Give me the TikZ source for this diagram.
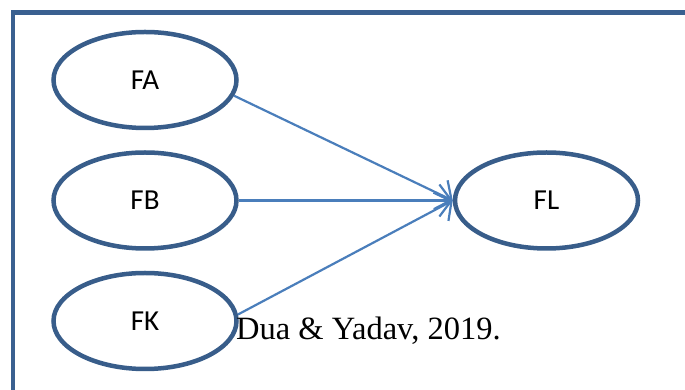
\documentclass[tikz,border=0pt]{standalone}
\usepackage{fontspec}
\setmainfont{Carlito}
\newfontfamily\citefont{Liberation Serif}
\usetikzlibrary{arrows.meta, positioning, shapes.geometric}
\definecolor{frameBlue}{HTML}{3A6090}
\definecolor{ovalBlue}{HTML}{385D8A}
\definecolor{lineBlue}{HTML}{4A7EBB}
\tikzset{
  arrowB/.style={-{Straight Barb[length=12pt, width=32pt, line width=2.2pt]}, lineBlue, line width=2.2pt},
  frameline/.style={frameBlue, line width=4.5pt, line join=miter},
  factor/.style={ellipse, draw=ovalBlue, line width=4.5pt, fill=white,
                 minimum width=183pt, minimum height=96pt, inner sep=0pt,
                 font=\fontsize{29}{34}\selectfont},
  source/.style={font=\citefont\fontsize{32.5}{38}\selectfont, inner sep=0pt},
}
\begin{document}
\begin{tikzpicture}[x=1pt, y=1pt, node distance=20pt]
    \useasboundingbox (0,0) rectangle (685,390);
    % open frame, cut off at the right and bottom
    \draw[frameline] (13,0) -- (13,377.5) -- (685,377.5);

    \node[factor] (fa) at (145,310) {FA};
    \node[factor, below=of fa] (fb) {FB};
    \node[factor, below=of fb] (fk) {FK};
    \node[factor, right=214pt of fb] (fl) {FL};

    \draw[arrowB] (fa.-10) -- (fl.west);
    \draw[arrowB] (fb.east) -- (fl.west);
    \draw[arrowB] (fk.4) -- (fl.west);

    \node[source, anchor=base west] (src) at (236,50) {Dua \& Yadav, 2019.};
  \end{tikzpicture}
\end{document}
